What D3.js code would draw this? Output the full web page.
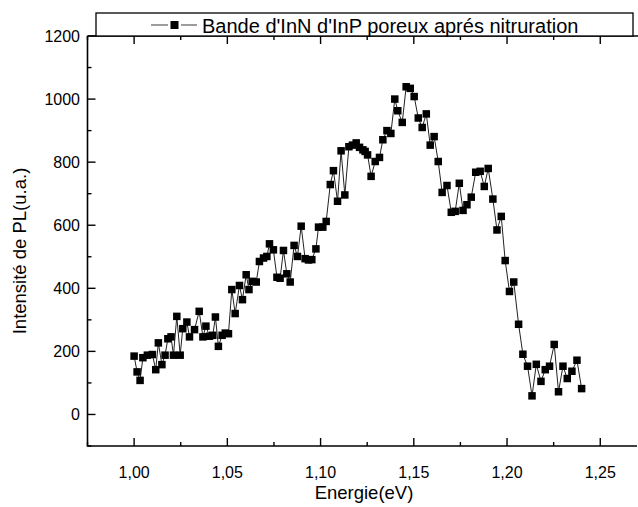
<!DOCTYPE html>
<html><head><meta charset="utf-8">
<script src="https://cdn.jsdelivr.net/npm/d3@7/dist/d3.min.js"></script>
<style>body{margin:0;background:#fff}svg{display:block;font-family:Arial,"Liberation Sans",sans-serif}</style>
</head><body><svg id="c" width="638" height="507"></svg>
<script>
const energies = [1.0000,1.0016,1.0032,1.0047,1.0071,1.0098,1.0116,1.0130,1.0149,1.0166,1.0181,1.0198,1.0211,1.0229,1.0247,1.0261,1.0283,1.0297,1.0324,1.0349,1.0369,1.0385,1.0404,1.0422,1.0436,1.0452,1.0472,1.0489,1.0506,1.0524,1.0542,1.0565,1.0581,1.0601,1.0616,1.0633,1.0655,1.0672,1.0694,1.0712,1.0726,1.0747,1.0766,1.0783,1.0801,1.0819,1.0837,1.0858,1.0876,1.0896,1.0917,1.0935,1.0953,1.0975,1.0989,1.1012,1.1030,1.1052,1.1069,1.1091,1.1110,1.1130,1.1152,1.1171,1.1191,1.1209,1.1227,1.1239,1.1252,1.1271,1.1293,1.1316,1.1334,1.1356,1.1377,1.1398,1.1414,1.1438,1.1459,1.1481,1.1502,1.1524,1.1545,1.1567,1.1588,1.1609,1.1631,1.1652,1.1678,1.1701,1.1722,1.1744,1.1764,1.1785,1.1808,1.1832,1.1856,1.1878,1.1899,1.1924,1.1946,1.1969,1.1990,1.2013,1.2036,1.2062,1.2085,1.2110,1.2134,1.2157,1.2182,1.2205,1.2228,1.2253,1.2276,1.2300,1.2323,1.2348,1.2375,1.2400];
const intensity = [185,135,108,180,188,190,142,227,158,188,240,246,188,311,188,272,293,246,269,327,246,280,248,251,309,216,251,258,256,396,320,409,364,443,396,422,420,485,496,501,541,522,435,432,520,446,420,536,501,597,494,490,491,525,594,594,612,729,773,676,836,696,849,854,861,847,839,834,823,755,802,815,871,900,891,1000,963,926,1039,1034,1008,940,910,953,854,881,802,704,726,641,644,733,647,665,689,768,771,723,780,683,585,628,488,390,420,286,191,153,59,159,105,142,153,222,72,153,114,137,172,82];
const xTicks = [1.00,1.05,1.10,1.15,1.20,1.25];
const xTickLabels = ["1,00","1,05","1,10","1,15","1,20","1,25"];
const yTicks = [0,200,400,600,800,1000,1200];
const legendLabel = "Bande d'InN d'InP poreux aprés nitruration";
const xTitle = "Energie(eV)";
const yTitle = "Intensité de PL(u.a.)";

const svg = d3.select("#c");
const L = 87.5, R = 637, T = 36, B = 446;
const x = d3.scaleLinear().domain([0.975, 1.2697]).range([L, R]);
const y = d3.scaleLinear().domain([-100, 1200]).range([B, T]);
const data = energies.map((e,i)=>({e, v:intensity[i]}));

// line + markers
svg.append("path").datum(data)
  .attr("fill","none").attr("stroke","#222").attr("stroke-width",1)
  .attr("d", d3.line().x(d=>x(d.e)).y(d=>y(d.v)));
svg.append("g").selectAll("rect").data(data).join("rect")
  .attr("x", d=>x(d.e)-3.75).attr("y", d=>y(d.v)-3.75)
  .attr("width",7.5).attr("height",7.5).attr("fill","#000");

// axes
const minorX = d3.range(0.975, 1.27, 0.025);
const minorY = d3.range(-100, 1201, 100);
const ax = svg.append("g").attr("stroke","#000");
ax.append("line").attr("x1",L).attr("x2",R).attr("y1",B).attr("y2",B).attr("stroke-width",1.6);
ax.append("line").attr("x1",L).attr("x2",640).attr("y1",T).attr("y2",T).attr("stroke-width",1.6);
ax.append("line").attr("x1",L).attr("x2",L).attr("y1",T).attr("y2",B+0.8).attr("stroke-width",1.6);
minorX.forEach(v=>{
  const major = xTicks.some(t=>Math.abs(t-v)<1e-6);
  const len = major?8:4;
  ax.append("line").attr("x1",x(v)).attr("x2",x(v)).attr("y1",B).attr("y2",B-len).attr("stroke-width",1.4);
  ax.append("line").attr("x1",x(v)).attr("x2",x(v)).attr("y1",T).attr("y2",T+len).attr("stroke-width",1.4);
});
minorY.forEach(v=>{
  const major = yTicks.includes(v);
  const len = major?8:4;
  ax.append("line").attr("x1",L).attr("x2",L+len).attr("y1",y(v)).attr("y2",y(v)).attr("stroke-width",1.4);
});

// tick labels
svg.append("g").selectAll("text").data(xTicks).join("text")
  .attr("x",d=>x(d)).attr("y",478).attr("text-anchor","middle")
  .attr("font-size",16).text((d,i)=>xTickLabels[i]);
svg.append("g").selectAll("text").data(yTicks).join("text")
  .attr("x",80).attr("y",d=>y(d)+5.6).attr("text-anchor","end")
  .attr("font-size",16).text(d=>d);

// titles
svg.append("text").attr("x",364).attr("y",499).attr("text-anchor","middle").attr("font-size",18.5).text(xTitle);
svg.append("text").attr("transform","translate(26,251) rotate(-90)").attr("text-anchor","middle").attr("font-size",18.5).text(yTitle);

// legend
const lg = svg.append("g");
lg.append("rect").attr("x",96).attr("y",13).attr("width",537).attr("height",23).attr("fill","#fff").attr("stroke","#000").attr("stroke-width",1.3);
lg.append("line").attr("x1",151).attr("x2",168).attr("y1",25).attr("y2",25).attr("stroke","#666").attr("stroke-width",1.3);
lg.append("line").attr("x1",181).attr("x2",197).attr("y1",25).attr("y2",25).attr("stroke","#666").attr("stroke-width",1.3);
lg.append("rect").attr("x",170.5).attr("y",21).attr("width",8).attr("height",8).attr("fill","#000");
lg.append("text").attr("x",202).attr("y",32.5).attr("font-size",20).text(legendLabel);
</script></body></html>
